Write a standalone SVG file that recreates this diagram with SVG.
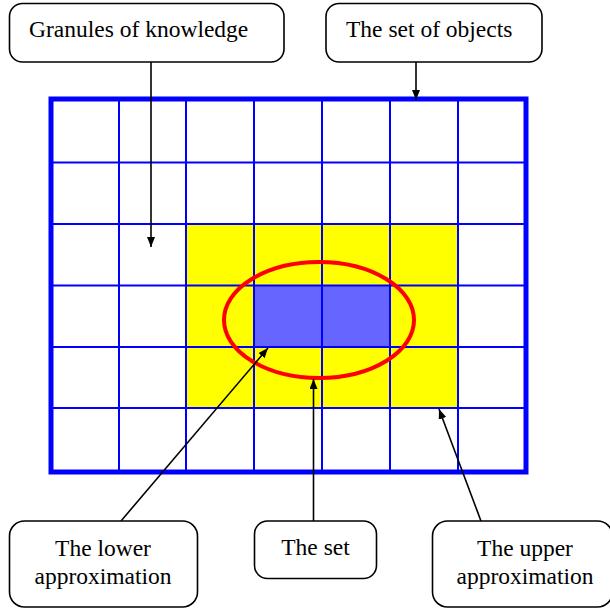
<svg xmlns="http://www.w3.org/2000/svg" width="610" height="612" viewBox="0 0 610 612">
<style>
.box{fill:#fff;stroke:#000;stroke-width:1.6}
.lbl{font-family:"Liberation Serif","Times New Roman",serif;font-size:23.5px;fill:#000}
.grid{stroke:#0000ff;stroke-width:2;fill:none}
.conn{stroke:#000;stroke-width:1.6;fill:none;marker-end:url(#ah)}
</style>
<defs>
<marker id="ah" markerWidth="10" markerHeight="8" refX="10" refY="4" orient="auto" markerUnits="userSpaceOnUse">
<path d="M0,0 L10,4 L0,8 Z" fill="#000"/>
</marker>
</defs>
<rect width="610" height="612" fill="#fff"/>
<g id="regions">
<rect x="186" y="224" width="272" height="184" fill="#ffff00"/>
<rect x="254" y="285.5" width="136" height="61.5" fill="#6666ff"/>
</g>
<g id="grid">
<path class="grid" d="M119,99V472M186,99V472M254,99V472M322,99V472M390,99V472M458,99V472M51,162.5H526M51,224H526M51,285.5H526M51,347H526M51,408H526"/>
<rect x="51" y="99" width="475" height="373" fill="none" stroke="#0000ff" stroke-width="5"/>
</g>
<g id="set">
<ellipse cx="319" cy="320" rx="95" ry="58" fill="none" stroke="#ff0000" stroke-width="4"/>
</g>
<g id="connectors">
<line class="conn" x1="151" y1="62" x2="151" y2="247"/>
<line class="conn" x1="416" y1="62" x2="416" y2="100"/>
<line class="conn" x1="121" y1="521" x2="268" y2="348"/>
<line class="conn" x1="313.5" y1="521" x2="313.5" y2="379"/>
<line class="conn" x1="481" y1="521" x2="439" y2="409"/>
</g>
<g id="granules">
<rect class="box" x="9.5" y="3.5" width="274.5" height="58.5" rx="13"/>
<text class="lbl" x="29" y="37">Granules of knowledge</text>
</g>
<g id="objects">
<rect class="box" x="326" y="3.5" width="216" height="58.5" rx="13"/>
<text class="lbl" x="346" y="37">The set of objects</text>
</g>
<g id="lower">
<rect class="box" x="9.5" y="521" width="188" height="86" rx="15"/>
<text class="lbl" x="103" y="556" text-anchor="middle">The lower</text>
<text class="lbl" x="103" y="584" text-anchor="middle">approximation</text>
</g>
<g id="theset">
<rect class="box" x="254.5" y="521" width="122" height="57.5" rx="13"/>
<text class="lbl" x="315.5" y="555" text-anchor="middle">The set</text>
</g>
<g id="upper">
<rect class="box" x="432.5" y="521" width="180" height="86" rx="15"/>
<text class="lbl" x="525" y="556" text-anchor="middle">The upper</text>
<text class="lbl" x="525" y="584" text-anchor="middle">approximation</text>
</g>
</svg>
